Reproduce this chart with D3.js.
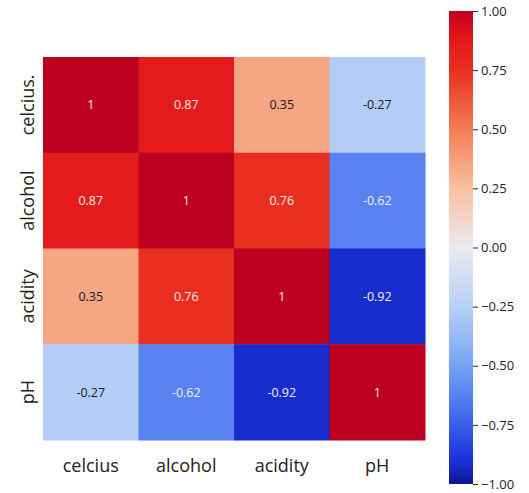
<!DOCTYPE html>
<html>
<meta charset="utf-8">
<title>Correlation heatmap</title>
<head>
  <script src="https://cdnjs.cloudflare.com/ajax/libs/d3/7.8.5/d3.min.js"></script>
  <style>
    body { margin: 0; background: #fff; }
    text { font-family: "Open Sans", "DejaVu Sans", sans-serif; }
  </style>
</head>
<body>
<script>
  var xLabels = ["celcius", "alcohol", "acidity", "pH"];
  var yLabels = ["celcius.", "alcohol", "acidity", "pH"];
  var corr = [
    [1, 0.87, 0.35, -0.27],
    [0.87, 1, 0.76, -0.62],
    [0.35, 0.76, 1, -0.92],
    [-0.27, -0.62, -0.92, 1]
  ];
  var cbTicks = [1, 0.75, 0.5, 0.25, 0, -0.25, -0.5, -0.75, -1];
  var colorStops = [-1, -0.9, -0.75, -0.5, -0.25, 0, 0.25, 0.5, 0.75, 0.9, 1];
  var colorValues = ["#0b168f", "#1b30dc", "#3a5eeb", "#75a4f5", "#b8d1f7", "#ece9ef",
                     "#f8c1a2", "#f47d55", "#e8301f", "#e3141a", "#bc001f"];

  var W = 529, H = 493;
  var svg = d3.select("body").append("svg")
      .attr("width", W)
      .attr("height", H);

  var color = d3.scaleLinear().domain(colorStops).range(colorValues);

  var x = d3.scaleBand().domain(d3.range(4)).range([43, 425]);
  var y = d3.scaleBand().domain(d3.range(4)).range([57, 440]);

  var cells = [];
  corr.forEach(function(row, i) {
    row.forEach(function(v, j) { cells.push({r: i, c: j, v: v}); });
  });

  svg.append("g").selectAll("rect")
    .data(cells)
    .enter().append("rect")
    .attr("x", function(d) { return x(d.c); })
    .attr("y", function(d) { return y(d.r); })
    .attr("width", x.bandwidth() + 0.5)
    .attr("height", y.bandwidth() + 0.5)
    .attr("fill", function(d) { return color(d.v); });

  svg.append("g").selectAll("text")
    .data(cells)
    .enter().append("text")
    .attr("x", function(d) { return x(d.c) + x.bandwidth() / 2; })
    .attr("y", function(d) { return y(d.r) + y.bandwidth() / 2; })
    .attr("text-anchor", "middle")
    .attr("dy", "0.35em")
    .attr("font-size", 12.5)
    .attr("fill", function(d) {
      var c = d3.hsl(color(d.v));
      return c.l > 0.72 ? "#161828" : "#f6eeee";
    })
    .text(function(d) { return d.v; });

  // axis labels
  svg.append("g").selectAll("text")
    .data(xLabels)
    .enter().append("text")
    .attr("x", function(d, i) { return x(i) + x.bandwidth() / 2; })
    .attr("y", 472)
    .attr("text-anchor", "middle")
    .attr("font-size", 18)
    .attr("fill", "#222")
    .text(function(d) { return d; });

  svg.append("g").selectAll("text")
    .data(yLabels)
    .enter().append("text")
    .attr("transform", function(d, i) {
      return "translate(34," + (y(i) + y.bandwidth() / 2) + ") rotate(-90)";
    })
    .attr("text-anchor", "middle")
    .attr("font-size", 18)
    .attr("fill", "#222")
    .text(function(d) { return d; });

  // colorbar
  var cbX = 449, cbW = 24;
  var cbY = d3.scaleLinear().domain([1, -1]).range([11, 484]);
  var defs = svg.append("defs");
  var grad = defs.append("linearGradient")
    .attr("id", "cbgrad")
    .attr("x1", 0).attr("y1", 0).attr("x2", 0).attr("y2", 1);
  colorStops.slice().reverse().forEach(function(s) {
    grad.append("stop")
      .attr("offset", ((1 - s) / 2 * 100) + "%")
      .attr("stop-color", color(s));
  });
  svg.append("rect")
    .attr("x", cbX)
    .attr("y", cbY(1))
    .attr("width", cbW)
    .attr("height", cbY(-1) - cbY(1))
    .attr("fill", "url(#cbgrad)");

  var cbAxis = d3.axisRight(cbY)
    .tickValues(cbTicks)
    .tickSize(5)
    .tickPadding(3)
    .tickFormat(function(d) { return d < 0 ? "\u2212" + d3.format(".2f")(-d) : d3.format(".2f")(d); });
  var ga = svg.append("g")
    .attr("transform", "translate(" + (cbX + cbW) + ",0)")
    .call(cbAxis);
  ga.select(".domain").remove();
  ga.selectAll("text")
    .attr("font-size", 13)
    .attr("fill", "#222")
    .style("font-family", "'Open Sans', 'DejaVu Sans', sans-serif");
  ga.selectAll("line").attr("stroke", "#222");
</script>
</body>
</html>
